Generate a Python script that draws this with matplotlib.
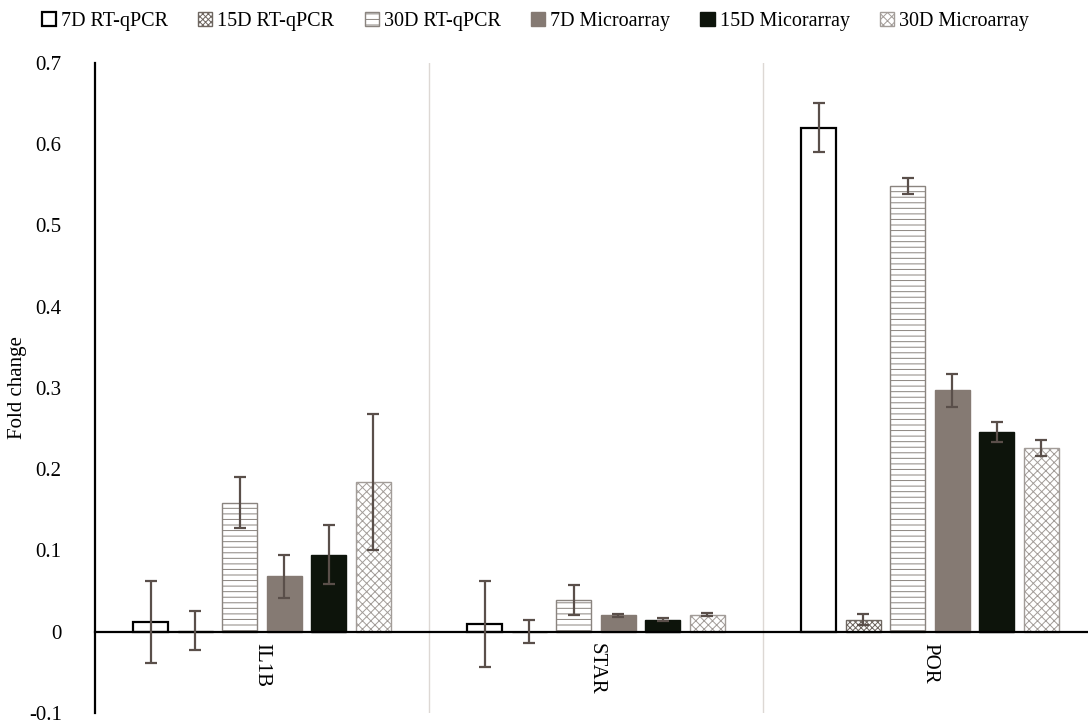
import numpy as np
import matplotlib
matplotlib.use("Agg")
import matplotlib.pyplot as plt

plt.rcParams["font.family"] = ["Liberation Serif", "DejaVu Serif"]
plt.rcParams["hatch.linewidth"] = 0.7

genes = ["IL1B", "STAR", "POR"]
series = ["7D RT-qPCR", "15D RT-qPCR", "30D RT-qPCR",
          "7D Microarray", "15D Micorarray", "30D Microarray"]

# values per series, one entry per gene (IL1B, STAR, POR)
rt7 = [0.012, 0.010, 0.620]
rt15 = [0.001, 0.000, 0.015]
rt30 = [0.159, 0.039, 0.548]
ma7 = [0.068, 0.020, 0.297]
ma15 = [0.095, 0.015, 0.246]
ma30 = [0.184, 0.021, 0.226]

rt7_err = [0.051, 0.053, 0.030]
rt15_err = [0.024, 0.014, 0.007]
rt30_err = [0.031, 0.018, 0.010]
ma7_err = [0.027, 0.002, 0.020]
ma15_err = [0.036, 0.002, 0.012]
ma30_err = [0.084, 0.002, 0.010]

values = [rt7, rt15, rt30, ma7, ma15, ma30]
errors = [rt7_err, rt15_err, rt30_err, ma7_err, ma15_err, ma30_err]

styles = [
    dict(facecolor="white", edgecolor="black", hatch=None, lw=1.6),
    dict(facecolor="white", edgecolor="#6e6660", hatch="xxxxxx", lw=1.0),
    dict(facecolor="white", edgecolor="#8a847f", hatch="---", lw=1.0),
    dict(facecolor="#857a73", edgecolor="#857a73", hatch=None, lw=1.0),
    dict(facecolor="#0d140b", edgecolor="#0d140b", hatch=None, lw=1.0),
    dict(facecolor="white", edgecolor="#a29c98", hatch="xxxx", lw=1.0),
]

fig = plt.figure(figsize=(10.88, 7.24), dpi=100)
ax = fig.add_axes([0.0873, 0.0152, 0.9127, 0.898])

x = np.arange(len(genes))
step = 0.133
width = 0.105
offsets = (np.arange(len(series)) - 2.5) * step

for i, name in enumerate(series):
    st = styles[i]
    ax.bar(x + offsets[i], values[i], width=width, facecolor=st["facecolor"],
           edgecolor=st["edgecolor"], hatch=st["hatch"], linewidth=st["lw"],
           label=name, zorder=2)
    ax.errorbar(x + offsets[i], values[i], yerr=errors[i], fmt="none",
                ecolor="#5a4f4a", elinewidth=1.6, capsize=4, capthick=1.6, zorder=3)

for b in [0.5, 1.5, 2.5]:
    ax.axvline(b, color="#ddd8d4", lw=1.0, zorder=0)

ax.set_xlim(-0.5, 2.473)
ax.set_ylim(-0.1, 0.7)
ax.set_yticks(np.arange(-0.1, 0.71, 0.1))
ax.set_yticklabels(["-0.1", "0", "0.1", "0.2", "0.3", "0.4", "0.5", "0.6", "0.7"], fontsize=15)
ax.tick_params(axis="y", length=0, pad=24)
ax.set_ylabel("Fold change", fontsize=15)
ax.yaxis.set_label_coords(-0.068, 0.5)

ax.spines["top"].set_visible(False)
ax.spines["right"].set_visible(False)
ax.spines["left"].set_linewidth(1.6)
ax.spines["bottom"].set_position(("data", 0))
ax.spines["bottom"].set_linewidth(1.6)
ax.set_xticks(x)
ax.set_xticklabels(genes, rotation=270, fontsize=15)
ax.tick_params(axis="x", length=0, pad=8)

fig.legend(loc="upper center", bbox_to_anchor=(0.492, 1.008), ncol=6, frameon=False,
           fontsize=14.5, handlelength=0.7, handleheight=0.7, handletextpad=0.25,
           columnspacing=1.5)

fig.savefig("out.png", dpi=100)
